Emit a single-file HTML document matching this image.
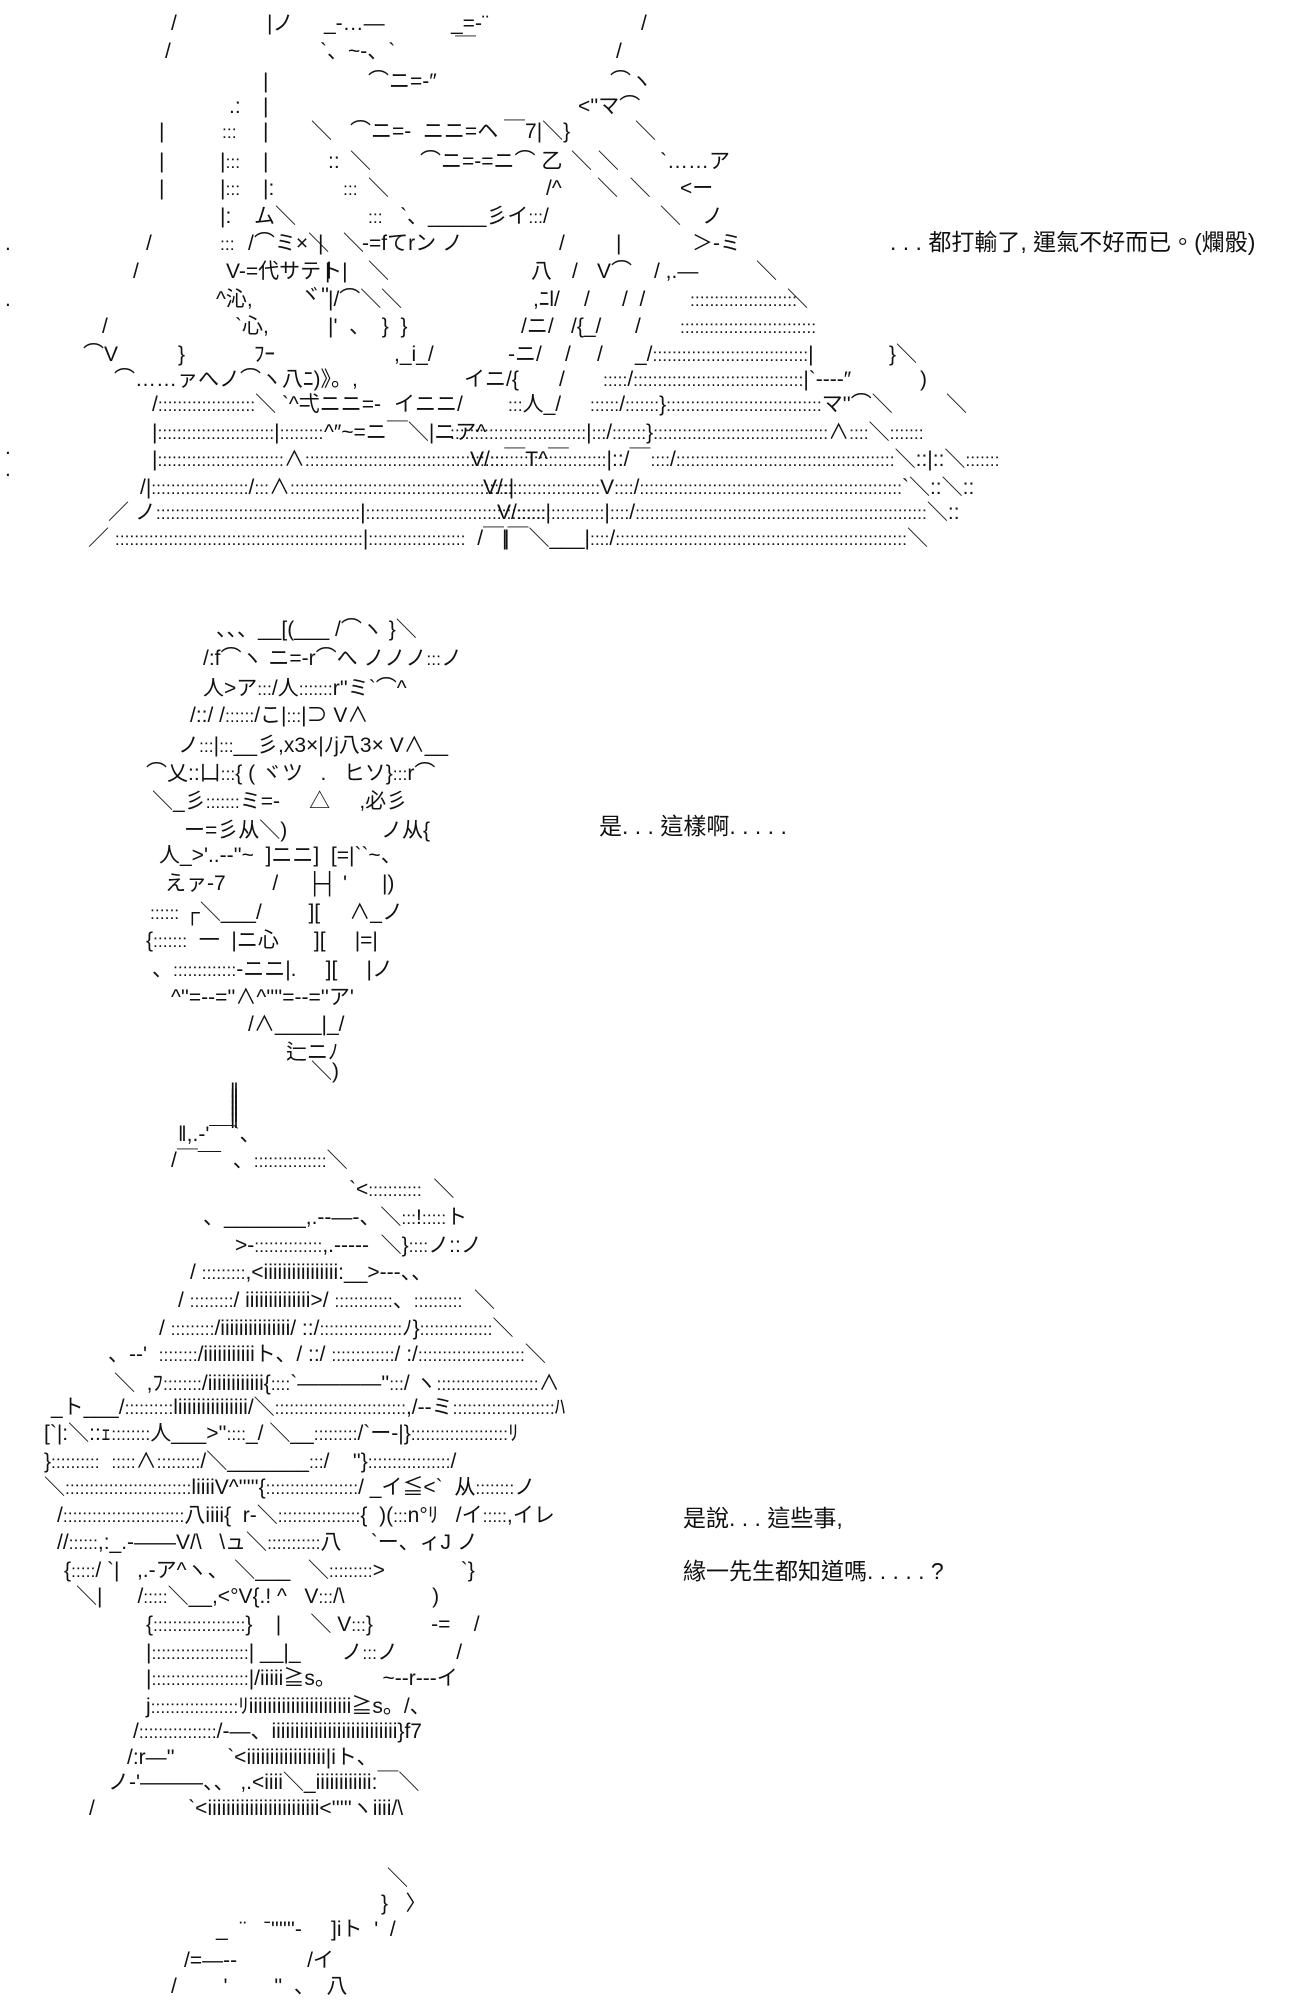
<!DOCTYPE html>
<html><head><meta charset="utf-8">
<style>
html,body{margin:0;padding:0;background:#fff;}
body{width:1300px;height:2000px;position:relative;overflow:hidden;}
.a{position:absolute;white-space:pre;font-family:"Liberation Sans","Noto Sans CJK JP",sans-serif;font-size:21px;line-height:22px;color:#111;margin-top:-3px;}
.a .d{font-size:17.5px;}
.t{position:absolute;white-space:pre;font-family:"Liberation Sans","Noto Sans CJK TC",sans-serif;font-size:23px;line-height:26px;color:#111;margin-top:-3px;}
</style></head><body>
<!-- Figure 1 -->
<div class="a" style="left:171px;top:16px">/</div><div class="a" style="left:267px;top:16px">|ノ</div><div class="a" style="left:324px;top:16px">_-…—</div><div class="a" style="left:451px;top:16px">_=-¨</div><div class="a" style="left:641px;top:16px">/</div>
<div class="a" style="left:165px;top:44px">/</div><div class="a" style="left:320px;top:44px">`、~-、`</div><div class="a" style="left:455px;top:40px">￣</div><div class="a" style="left:616px;top:44px">/</div>
<div class="a" style="left:263px;top:74px">|</div><div class="a" style="left:368px;top:74px">⌒ニ=-″</div><div class="a" style="left:610px;top:74px">⌒ヽ</div>
<div class="a" style="left:229px;top:99px">.:</div><div class="a" style="left:263px;top:99px">|</div><div class="a" style="left:578px;top:99px">&lt;''マ⌒</div>
<div class="a" style="left:159px;top:124px">|</div><div class="a" style="left:222px;top:124px">:::</div><div class="a" style="left:263px;top:124px">|</div><div class="a" style="left:311px;top:124px">＼</div><div class="a" style="left:350px;top:124px">⌒ニ=-  ニニ=ヘ ￣7|＼}</div><div class="a" style="left:635px;top:124px">＼</div>
<div class="a" style="left:159px;top:154px">|</div><div class="a" style="left:220px;top:154px">|:::</div><div class="a" style="left:263px;top:154px">|</div><div class="a" style="left:328px;top:154px">::</div><div class="a" style="left:350px;top:154px">＼</div><div class="a" style="left:420px;top:154px">⌒ニ=-=ニ⌒ 乙</div><div class="a" style="left:571px;top:154px">＼ ＼</div><div class="a" style="left:660px;top:154px">`……ア</div>
<div class="a" style="left:159px;top:181px">|</div><div class="a" style="left:220px;top:181px">|:::</div><div class="a" style="left:263px;top:181px">|:</div><div class="a" style="left:343px;top:181px">:::</div><div class="a" style="left:368px;top:181px">＼</div><div class="a" style="left:546px;top:181px">/^</div><div class="a" style="left:597px;top:181px">＼  ＼</div><div class="a" style="left:680px;top:181px">&lt;ー</div>
<div class="a" style="left:220px;top:209px">|:</div><div class="a" style="left:254px;top:209px">ム</div><div class="a" style="left:275px;top:209px">＼</div><div class="a" style="left:368px;top:209px">:::</div><div class="a" style="left:400px;top:209px">`、_____彡イ:::/</div><div class="a" style="left:660px;top:209px">＼</div><div class="a" style="left:702px;top:209px">ノ</div>
<div class="a" style="left:5px;top:236px">.</div><div class="a" style="left:146px;top:236px">/</div><div class="a" style="left:220px;top:236px">:::</div><div class="a" style="left:248px;top:236px">/⌒ミ×＼</div><div class="a" style="left:318px;top:236px">|</div><div class="a" style="left:343px;top:236px">＼</div><div class="a" style="left:362px;top:236px">-=fてrン ノ</div><div class="a" style="left:559px;top:236px">/</div><div class="a" style="left:616px;top:236px">|</div><div class="a" style="left:692px;top:236px">＞-ミ</div>
<div class="a" style="left:133px;top:264px">/</div><div class="a" style="left:226px;top:264px">V-=代サテト|</div><div class="a" style="left:325px;top:264px">|</div><div class="a" style="left:368px;top:264px">＼</div><div class="a" style="left:531px;top:264px">八</div><div class="a" style="left:572px;top:264px">/</div><div class="a" style="left:597px;top:264px">V⌒</div><div class="a" style="left:654px;top:264px">/ ,.—</div><div class="a" style="left:756px;top:264px">＼</div>
<div class="a" style="left:5px;top:292px">.</div><div class="a" style="left:216px;top:292px">^沁,</div><div class="a" style="left:300px;top:288px">ヾ''</div><div class="a" style="left:328px;top:292px">|/⌒＼</div><div class="a" style="left:381px;top:292px">＼</div><div class="a" style="left:533px;top:292px">,ﾆl/</div><div class="a" style="left:584px;top:292px">/</div><div class="a" style="left:622px;top:292px">/  /</div><div class="a" style="left:690px;top:292px">::::::::::::::::::::::</div><div class="a" style="left:787px;top:292px">＼</div>
<div class="a" style="left:102px;top:319px">/</div><div class="a" style="left:235px;top:319px">`心,</div><div class="a" style="left:328px;top:319px">|'  、  }  }</div><div class="a" style="left:521px;top:319px">/ニ/</div><div class="a" style="left:571px;top:319px">/{_/</div><div class="a" style="left:635px;top:319px">/</div><div class="a" style="left:680px;top:319px">::::::::::::::::::::::::::::</div>
<div class="a" style="left:83px;top:347px">⌒V</div><div class="a" style="left:178px;top:347px">}</div><div class="a" style="left:254px;top:347px">ﾌｰ</div><div class="a" style="left:394px;top:347px">,_i_/</div><div class="a" style="left:508px;top:347px">-ニ/</div><div class="a" style="left:565px;top:347px">/</div><div class="a" style="left:597px;top:347px">/</div><div class="a" style="left:635px;top:347px">_/::::::::::::::::::::::::::::::::|</div><div class="a" style="left:889px;top:347px">}＼</div>
<div class="a" style="left:114px;top:372px">⌒……ァへノ⌒ヽ八ﾆ)》。,</div><div class="a" style="left:464px;top:372px">イニ/{</div><div class="a" style="left:559px;top:372px">/</div><div class="a" style="left:603px;top:372px">:::::/:::::::::::::::::::::::::::::::::::|`----″</div><div class="a" style="left:920px;top:372px">)</div>
<div class="a" style="left:152px;top:397px">/::::::::::::::::::::＼ `^弌ニニ=-</div><div class="a" style="left:394px;top:397px">イニニ/</div><div class="a" style="left:508px;top:397px">:::人_/</div><div class="a" style="left:590px;top:397px">::::::/:::::::}::::::::::::::::::::::::::::::::マ''⌒＼</div><div class="a" style="left:946px;top:397px">＼</div>
<div class="a" style="left:152px;top:425px">|::::::::::::::::::::::::|:::::::::</div><div class="a" style="left:324px;top:425px">^″~=ニ￣＼|ニア^</div><div class="a" style="left:450px;top:425px">::::::::::::::::::::::::::::|:::/:::::::}::::::::::::::::::::::::::::::::::::∧::::＼:::::::</div><div class="a" style="left:5px;top:440px">.</div>
<div class="a" style="left:152px;top:452px">|::::::::::::::::::::::::::∧:::::::::::::::::::::::::::::::::::::::::￣T^￣</div><div class="a" style="left:470px;top:452px">V/::::::::::::::::::::::::|::/￣::::/:::::::::::::::::::::::::::::::::::::::::::::＼::|::＼:::::::</div><div class="a" style="left:5px;top:462px">.</div>
<div class="a" style="left:140px;top:480px">/|::::::::::::::::::::/:::∧:::::::::::::::::::::::::::::::::::::::::::::|</div><div class="a" style="left:483px;top:480px">V/::::::::::::::::::::V::::/::::::::::::::::::::::::::::::::::::::::::::::::::::::`＼::＼::</div>
<div class="a" style="left:108px;top:505px">／ ノ::::::::::::::::::::::::::::::::::::::::::|:::::::::::::::::::::::::::::::::::::|</div><div class="a" style="left:497px;top:505px">V/::::::::::::::::::|::::/::::::::::::::::::::::::::::::::::::::::::::::::::::::::::::＼::</div>
<div class="a" style="left:88px;top:531px">／ :::::::::::::::::::::::::::::::::::::::::::::::::::|::::::::::::::::::::  /￣|</div><div class="a" style="left:502px;top:531px">|￣＼___|::::/::::::::::::::::::::::::::::::::::::::::::::::::::::::::::::＼</div>

<div class="t" style="left:890px;top:232px">. . . 都打輸了, 運氣不好而已。(爛骰)</div>

<!-- Figure 2 -->
<div class="a" style="left:216px;top:622px">、、、__[(___ /⌒ヽ }＼</div>
<div class="a" style="left:203px;top:651px">/:f⌒ヽ ニ=-r⌒へ ノノノ:::ノ</div>
<div class="a" style="left:203px;top:681px">人>ア:::/人:::::::r''ミ`⌒^</div>
<div class="a" style="left:190px;top:708px">/::/ /::::::/こ|:::|⊃ V∧</div>
<div class="a" style="left:178px;top:738px">ノ:::|:::__彡,x3×|ﾉj八3× V∧__</div>
<div class="a" style="left:146px;top:766px">⌒乂::凵:::{ ( ヾツ   .   ヒソ}:::r⌒</div>
<div class="a" style="left:152px;top:794px">＼_彡:::::::ミ=-     △     ,必彡</div>
<div class="a" style="left:184px;top:823px">ー=彡从＼)</div><div class="a" style="left:381px;top:823px">ノ从{</div>
<div class="a" style="left:159px;top:848px">人_>'..-‐''~  ]ニニ]  [=|``~、</div>
<div class="a" style="left:165px;top:876px">えァ-7        /     ├┤ '      |)</div>
<div class="a" style="left:150px;top:905px">:::::: ┌＼___/        ][     ∧_ノ</div>
<div class="a" style="left:146px;top:933px">{:::::::  一  |ニ心      ][     |=|</div>
<div class="a" style="left:152px;top:962px">、:::::::::::::-ニニ|.     ][     |ノ</div>
<div class="a" style="left:171px;top:990px">^''=--=''∧^''''=--=''ア'</div>
<div class="a" style="left:248px;top:1017px">/∧____|_/</div>
<div class="a" style="left:286px;top:1045px">辷ニﾉ</div>
<div class="a" style="left:311px;top:1064px">＼)</div>

<div class="t" style="left:599px;top:816px">是. . . 這樣啊. . . . .</div>

<!-- Figure 3 -->
<div class="a" style="left:230px;top:1092px;line-height:6px">‖<br>‖<br>‖<br>‖<br>‖<br>‖</div>
<div class="a" style="left:178px;top:1127px">‖,.-'¯¯`、</div>
<div class="a" style="left:171px;top:1153px">/￣¯¯  、:::::::::::::::＼</div>
<div class="a" style="left:349px;top:1182px">`&lt;:::::::::::  ＼</div>
<div class="a" style="left:203px;top:1210px">、_______,.--―-、＼:::!:::::ト</div>
<div class="a" style="left:235px;top:1238px">&gt;-::::::::::::::,.-----  ＼}::::ノ::ノ</div>
<div class="a" style="left:190px;top:1265px">/ :::::::::,&lt;iiiiiiiiiiiiiiii:__&gt;-‐-、、</div>
<div class="a" style="left:178px;top:1293px">/ :::::::::/ iiiiiiiiiiiiii&gt;/ ::::::::::::、::::::::::  ＼</div>
<div class="a" style="left:159px;top:1321px">/ :::::::::/iiiiiiiiiiiiiii/ ::/:::::::::::::::::ﾉ}:::::::::::::::＼</div>
<div class="a" style="left:108px;top:1347px">、--'  ::::::::/iiiiiiiiiiiト、/ ::/ :::::::::::::/ :/::::::::::::::::::::::＼</div>
<div class="a" style="left:114px;top:1376px">＼  ,ﾌ::::::::/iiiiiiiiiiii{::::`————'':::/ ヽ:::::::::::::::::::::∧</div>
<div class="a" style="left:51px;top:1400px">_ト___/::::::::::liiiiiiiiiiiiiii/＼:::::::::::::::::::::::::::,/--ミ:::::::::::::::::::::ﾊ</div>
<div class="a" style="left:44px;top:1426px">[`|:＼::ｪ::::::::人___&gt;''::::_/ ＼__:::::::::/`ー-|}::::::::::::::::::::ﾘ</div>
<div class="a" style="left:44px;top:1454px">}::::::::::  :::::∧:::::::::/＼_______:::/    ''}:::::::::::::::::/</div>
<div class="a" style="left:44px;top:1480px">＼::::::::::::::::::::::::::liiiiV^'''''{:::::::::::::::::::/ _イ≦&lt;`  从::::::::ノ</div>
<div class="a" style="left:57px;top:1508px">/:::::::::::::::::::::::::八iiii{  r‐＼:::::::::::::::::{  )(:::n°ﾘ   /イ:::::,イレ</div>
<div class="a" style="left:57px;top:1535px">//::::::,:_.-——V/\   \ュ＼:::::::::::八     `ー、ィJ ノ</div>
<div class="a" style="left:64px;top:1563px">{:::::/ `|   ,.-ア^ヽ、 ＼___   ＼:::::::::&gt;             `}</div>
<div class="a" style="left:76px;top:1589px">＼|      /:::::＼__,&lt;°V{.! ^   V:::/\               )</div>
<div class="a" style="left:146px;top:1617px">{:::::::::::::::::::}    |     ＼ V:::}          -=    /</div>
<div class="a" style="left:146px;top:1645px">|::::::::::::::::::::| __|_       ノ:::ノ          /</div>
<div class="a" style="left:146px;top:1671px">|::::::::::::::::::::|/iiiii≧s。        ~-‐r--‐イ</div>
<div class="a" style="left:146px;top:1699px">j::::::::::::::::::ﾘiiiiiiiiiiiiiiiiiiiiii≧s。/、</div>
<div class="a" style="left:133px;top:1724px">/::::::::::::::::/‐—、iiiiiiiiiiiiiiiiiiiiiiiiiii}f7</div>
<div class="a" style="left:127px;top:1750px">/:r—''         `&lt;iiiiiiiiiiiiiiiii|iト、</div>
<div class="a" style="left:108px;top:1775px">ノ-'———、、 ,.&lt;iiii＼_iiiiiiiiiiii:￣＼</div>
<div class="a" style="left:89px;top:1801px">/                `&lt;iiiiiiiiiiiiiiiiiiiiiiii&lt;'''''ヽiiii/\</div>

<div class="t" style="left:683px;top:1508px">是說. . . 這些事,</div>
<div class="t" style="left:683px;top:1561px">緣一先生都知道嗎. . . . . ?</div>

<!-- Figure 4 -->
<div class="a" style="left:387px;top:1871px">＼</div>
<div class="a" style="left:381px;top:1896px">}   〉</div>
<div class="a" style="left:216px;top:1922px">_  ¨   ˉ''''''-     ]iト  '  /</div>
<div class="a" style="left:184px;top:1953px">/=—--            /イ</div>
<div class="a" style="left:171px;top:1979px">/        '        ''  、  八</div>
<script>
document.querySelectorAll('.a').forEach(function(el){
  if(el.children.length) return;
  var s=el.textContent;
  var h=s.replace(/&/g,'&amp;').replace(/</g,'&lt;').replace(/>/g,'&gt;');
  h=h.replace(/([:.]{3,})/g,'<span class="d">$1</span>');
  el.innerHTML=h;
});
</script>
</body></html>
